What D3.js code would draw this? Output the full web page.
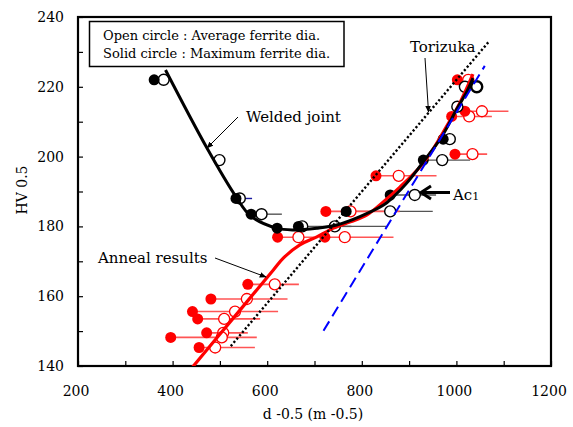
<!DOCTYPE html>
<html><head><meta charset="utf-8">
<script src="https://cdn.jsdelivr.net/npm/d3@7"></script>
<style>
html,body{margin:0;padding:0;background:#fff;}
svg text{font-family:"DejaVu Serif",serif;fill:#000;}
</style></head>
<body><div id="chart"></div>
<script>
// ---- data ----
const xTicks = [200, 400, 600, 800, 1000, 1200];
const yTicks = [140, 160, 180, 200, 220, 240];

// Welded joint (black): HV, max ferrite dia (solid), average (open), range end
const weldY      = [222, 199, 188, 183.5, 179.5, 180, 180, 184.3, 189, 199, 205, 214.3, 220, 220];
const weldSolidX = [361, null, 534, 566, 621, 666, null, 767, 860, 930, 972, null, null, null];
const weldOpenX  = [381, 499, 542, 588, null, 674, 743, 860, 912, 970, 986, 1002, 1018, 1043];
const weldEndX   = [null, null, 568, 631, null, 852, 778, 950, 957, 1029, null, null, null, null];

// Anneal results (red)
const annealY      = [222, 211.5, 213, 200.7, 194.5, 184.3, 176.9, 176.9, 163.4, 159.2, 155.6, 153.5, 149.5, 148.2, 145.3];
const annealSolidX = [1002, 990, 1018, 997, 830, 724, 622, 722, 559, 481, 442, 453, 472, 396, 456];
const annealOpenX  = [1025, 1027, 1054, 1034, 878, 776, 666, 764, 616, 557, 532, 509, 507, 504, 490];
const annealEndX   = [null, 1075, 1110, 1065, 958, 880, 700, 867, 667, 643, 623, 585, 559, 578, 574];

// fitted curves
const weldCurveX = [385, 472, 534, 565, 620, 655, 705, 747, 796, 846, 867, 895, 930, 969, 1000, 1022, 1035];
const weldCurveY = [224.8, 202.6, 188.5, 183, 179.5, 179, 179.5, 180.4, 182.8, 186.1, 188.5, 192.4, 198.5, 205.7, 213.4, 218.6, 222.5];
const annealCurveX = [441, 527, 613, 634, 669, 705, 740, 776, 811, 846, 880, 923, 950, 979, 1007, 1035];
const annealCurveY = [139.5, 153.5, 167.5, 170.9, 174.7, 177, 179.5, 181.3, 183.3, 187.1, 191.2, 197, 202, 208.6, 215.3, 223.6];

// reference lines
const torizukaX = [523, 1069];
const torizukaY = [145.7, 233];
const ac1X = [719, 1060];
const ac1Y = [150.1, 226];

const legendLines = ["Open circle : Average ferrite dia.", "Solid circle : Maximum ferrite dia."];

// ---- drawing ----
const W = 573, H = 427;
const svg = d3.select("#chart").append("svg").attr("width", W).attr("height", H);
const x = d3.scaleLinear().domain([200, 1200]).range([78, 551]);
const y = d3.scaleLinear().domain([140, 240]).range([366, 17]);

const defs = svg.append("defs");
defs.append("marker").attr("id", "ah").attr("viewBox", "0 0 10 10")
  .attr("refX", 9).attr("refY", 5).attr("markerWidth", 7).attr("markerHeight", 7)
  .attr("markerUnits", "userSpaceOnUse").attr("orient", "auto")
  .append("path").attr("d", "M0,1 L10,5 L0,9 Z").attr("fill", "#000");
defs.append("clipPath").attr("id", "clip").append("rect")
  .attr("x", 78).attr("y", 17).attr("width", 473).attr("height", 349);

// axes
const xAxis = d3.axisBottom(x).tickValues(d3.range(200, 1201, 100)).tickSize(-5).tickFormat("");
const yAxis = d3.axisLeft(y).tickValues(d3.range(140, 241, 10)).tickSize(-5).tickFormat("");
const gx = svg.append("g").attr("transform", "translate(0,366)").call(xAxis);
const gy = svg.append("g").attr("transform", "translate(78,0)").call(yAxis);
[gx, gy].forEach(g => { g.select(".domain").remove(); g.selectAll("line").attr("stroke", "#000").attr("stroke-width", 1.2); });

svg.append("rect").attr("x", 78).attr("y", 17).attr("width", 473).attr("height", 349)
  .attr("fill", "none").attr("stroke", "#000").attr("stroke-width", 2.2);

svg.append("g").selectAll("text").data(xTicks).join("text")
  .attr("x", d => x(d) - 2).attr("y", 396).attr("text-anchor", "middle")
  .attr("font-size", 14).text(d => d);
svg.append("g").selectAll("text").data(yTicks).join("text")
  .attr("x", 64).attr("y", d => y(d) + 5).attr("text-anchor", "end")
  .attr("font-size", 14).text(d => d);

svg.append("text").attr("x", 313).attr("y", 419).attr("text-anchor", "middle")
  .attr("font-size", 14).text("d -0.5 (m -0.5)");
svg.append("text").attr("transform", "translate(27,190) rotate(-90)").attr("text-anchor", "middle")
  .attr("font-size", 14).text("HV 0.5");

const plot = svg.append("g").attr("clip-path", "url(#clip)");

// range lines
const weldIdx = d3.range(weldY.length);
const annealIdx = d3.range(annealY.length);
plot.append("g").selectAll("line").data(weldIdx.filter(i => weldEndX[i] != null)).join("line")
  .attr("x1", i => x(weldSolidX[i] != null ? weldSolidX[i] : weldOpenX[i]))
  .attr("x2", i => x(weldEndX[i])).attr("y1", i => y(weldY[i])).attr("y2", i => y(weldY[i]))
  .attr("stroke", (i) => i === 2 ? "#1a1aa0" : "#555").attr("stroke-width", 1.4);
plot.append("g").selectAll("line").data(annealIdx.filter(i => annealEndX[i] != null)).join("line")
  .attr("x1", i => x(annealSolidX[i])).attr("x2", i => x(annealEndX[i]))
  .attr("y1", i => y(annealY[i])).attr("y2", i => y(annealY[i]))
  .attr("stroke", "#ff5555").attr("stroke-width", 1.6);

// markers
const R = 5.5;
plot.append("g").selectAll("circle").data(annealIdx).join("circle")
  .attr("cx", i => x(annealOpenX[i])).attr("cy", i => y(annealY[i])).attr("r", R)
  .attr("fill", "#fff").attr("stroke", "#ff0000").attr("stroke-width", 1.3);
plot.append("g").selectAll("circle").data(annealIdx).join("circle")
  .attr("cx", i => x(annealSolidX[i])).attr("cy", i => y(annealY[i])).attr("r", R)
  .attr("fill", "#ff0000");
plot.append("g").selectAll("circle").data(weldIdx.filter(i => weldOpenX[i] != null)).join("circle")
  .attr("cx", i => x(weldOpenX[i])).attr("cy", i => y(weldY[i])).attr("r", R)
  .attr("fill", "#fff").attr("stroke", "#000").attr("stroke-width", (i) => i === weldY.length - 1 ? 2.4 : 1.4);
plot.append("g").selectAll("circle").data(weldIdx.filter(i => weldSolidX[i] != null)).join("circle")
  .attr("cx", i => x(weldSolidX[i])).attr("cy", i => y(weldY[i])).attr("r", R)
  .attr("fill", "#000");

// curves
const line = d3.line().x(d => x(d[0])).y(d => y(d[1])).curve(d3.curveCatmullRom.alpha(0.5));
plot.append("path").datum(annealCurveX.map((v, i) => [v, annealCurveY[i]])).attr("d", line)
  .attr("fill", "none").attr("stroke", "#ff0000").attr("stroke-width", 3.2);
plot.append("path").datum(weldCurveX.map((v, i) => [v, weldCurveY[i]])).attr("d", line)
  .attr("fill", "none").attr("stroke", "#000").attr("stroke-width", 3);

const straight = d3.line().x(d => x(d[0])).y(d => y(d[1]));
plot.append("path").datum(torizukaX.map((v, i) => [v, torizukaY[i]])).attr("d", straight)
  .attr("fill", "none").attr("stroke", "#000").attr("stroke-width", 2.4).attr("stroke-dasharray", "2.2,2.2");
plot.append("path").datum(ac1X.map((v, i) => [v, ac1Y[i]])).attr("d", straight)
  .attr("fill", "none").attr("stroke", "#0000ff").attr("stroke-width", 2).attr("stroke-dasharray", "11,6");

// legend
svg.append("rect").attr("x", 89.5).attr("y", 21.5).attr("width", 254.5).attr("height", 45)
  .attr("fill", "#fff").attr("stroke", "#000").attr("stroke-width", 1.5);
svg.append("g").selectAll("text").data(legendLines).join("text")
  .attr("x", 103).attr("y", (d, i) => 40 + i * 18).attr("font-size", 13).text(d => d);

// annotations
function arrow(x1, y1, x2, y2) {
  svg.append("line").attr("x1", x1).attr("y1", y1).attr("x2", x2).attr("y2", y2)
    .attr("stroke", "#000").attr("stroke-width", 1).attr("marker-end", "url(#ah)");
}
svg.append("text").attr("x", 246).attr("y", 122).attr("font-size", 15).text("Welded joint");
arrow(238, 117, 207, 148);
svg.append("text").attr("x", 410).attr("y", 52).attr("font-size", 15).text("Torizuka");
arrow(425, 58, 428.5, 112);
svg.append("text").attr("x", 98).attr("y", 263).attr("font-size", 15).text("Anneal results");
arrow(215, 258, 266, 277);
// Ac1 arrow
svg.append("line").attr("x1", 450).attr("y1", 192.5).attr("x2", 423).attr("y2", 192.5)
  .attr("stroke", "#000").attr("stroke-width", 3);
svg.append("path").attr("d", "M431,186 L421,192.5 L431,199").attr("fill", "none")
  .attr("stroke", "#000").attr("stroke-width", 3);
const ac = svg.append("text").attr("x", 453).attr("y", 200).attr("font-size", 15);
ac.append("tspan").text("Ac");
ac.append("tspan").attr("font-size", 11).text("1");
</script></body></html>
